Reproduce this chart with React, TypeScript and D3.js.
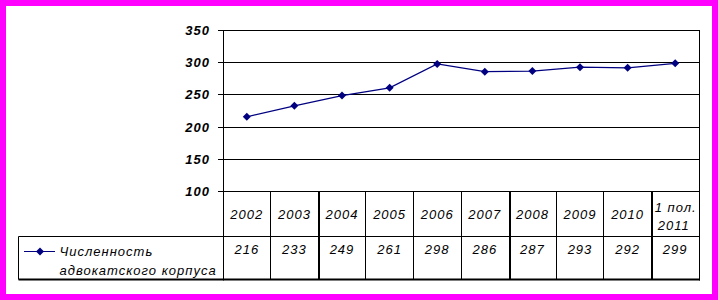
import React from "react";
import * as d3 from "d3";

const categories: string[][] = [
  ["2002"], ["2003"], ["2004"], ["2005"], ["2006"], ["2007"], ["2008"], ["2009"], ["2010"], ["1 пол.", "2011"],
];
const values: number[] = [216, 233, 249, 261, 298, 286, 287, 293, 292, 299];
const yTicks: number[] = [100, 150, 200, 250, 300, 350];
const seriesName: string[] = ["Численность", "адвокатского корпуса"];

const W = 718;
const H = 300;
const FONT = "'Liberation Sans', Arial, sans-serif";
const NAVY = "#000080";

export default function App() {
  const keys = categories.map((c) => c.join(" "));
  const x = d3.scaleBand<string>().domain(keys).range([223, 699]).paddingInner(0).paddingOuter(0);
  const y = d3.scaleLinear().domain([100, 350]).range([191.5, 30.5]);
  const crisp = (v: number) => Math.floor(v) + 0.5;

  const headerBottom = 236.5;
  const tableBottom = 279.5;
  const plotLeft = 223.5;
  const plotRight = 699.5;
  const legendLeft = 18.5;

  const line = d3
    .line<number>()
    .x((_, i) => (x(keys[i]) as number) + x.bandwidth() / 2)
    .y((d) => y(d));

  const diamond = (cx: number, cy: number, r = 4) =>
    `M${cx},${cy - r}L${cx + r},${cy}L${cx},${cy + r}L${cx - r},${cy}Z`;

  const thick = new Set([2, 6, 9]);

  return (
    <svg
      width={W}
      height={H}
      style={{ position: "absolute", left: 0, top: 0, display: "block" }}
      fontFamily={FONT}
    >
      <rect x={0} y={0} width={W} height={H} fill="#ff00ff" />
      <rect x={6} y={6} width={706} height={288} fill="#ffffff" />

      {/* gridlines */}
      {yTicks.map((t) => (
        <g key={t}>
          <line x1={218} x2={plotRight} y1={crisp(y(t))} y2={crisp(y(t))} stroke="#000" strokeWidth={1} />
          <text
            x={210}
            y={crisp(y(t)) + 4.8}
            textAnchor="end"
            fontSize={13}
            fontWeight="bold"
            fontStyle="italic"
            letterSpacing={1}
            fill="#000"
          >
            {t}
          </text>
        </g>
      ))}

      {/* axis line and right border */}
      <line x1={plotLeft} x2={plotLeft} y1={30} y2={tableBottom + 1} stroke="#000" />
      <line x1={plotRight} x2={plotRight} y1={30} y2={tableBottom + 1} stroke="#000" />

      {/* table column separators */}
      {keys.slice(1).map((k, i) => {
        const bx = x(k) as number;
        const isThick = thick.has(i + 1);
        return (
          <line
            key={k}
            x1={isThick ? Math.round(bx) + 1 : crisp(bx)}
            x2={isThick ? Math.round(bx) + 1 : crisp(bx)}
            y1={191}
            y2={tableBottom}
            stroke="#000"
            strokeWidth={isThick ? 2 : 1}
          />
        );
      })}

      {/* table horizontal lines */}
      <line x1={legendLeft} x2={plotRight} y1={headerBottom} y2={headerBottom} stroke="#000" />
      <line x1={legendLeft} x2={plotRight + 0.5} y1={tableBottom} y2={tableBottom} stroke="#000" strokeWidth={2} />
      <line x1={legendLeft} x2={legendLeft} y1={headerBottom} y2={tableBottom} stroke="#000" />

      {/* category header labels */}
      {categories.map((c, i) => {
        const cx = (x(keys[i]) as number) + x.bandwidth() / 2;
        if (c.length === 1) {
          return (
            <text key={i} x={cx} y={219} textAnchor="middle" fontSize={13} fontStyle="italic" letterSpacing={1} fill="#000">
              {c[0]}
            </text>
          );
        }
        return (
          <text key={i} textAnchor="middle" fontSize={13} fontStyle="italic" letterSpacing={1} fill="#000">
            <tspan x={cx + 0.5} y={211.5}>{c[0]}</tspan>
            <tspan x={cx - 1.5} y={229.5}>{c[1]}</tspan>
          </text>
        );
      })}

      {/* data row values */}
      {values.map((v, i) => (
        <text
          key={i}
          x={(x(keys[i]) as number) + x.bandwidth() / 2}
          y={253.5}
          textAnchor="middle"
          fontSize={13}
          fontStyle="italic"
          letterSpacing={1}
          fill="#000"
        >
          {v}
        </text>
      ))}

      {/* legend key */}
      <line x1={24} x2={55} y1={251.5} y2={251.5} stroke={NAVY} strokeWidth={1} />
      <path d={diamond(40, 251.5)} fill={NAVY} />
      <text fontSize={13} fontStyle="italic" letterSpacing={1} fill="#000">
        <tspan x={59.5} y={256}>{seriesName[0]}</tspan>
        <tspan x={59.5} y={275}>{seriesName[1]}</tspan>
      </text>

      {/* series line */}
      <path d={line(values) || ""} fill="none" stroke={NAVY} strokeWidth={1.2} />
      {values.map((v, i) => (
        <path key={i} d={diamond((x(keys[i]) as number) + x.bandwidth() / 2, y(v))} fill={NAVY} />
      ))}
    </svg>
  );
}
